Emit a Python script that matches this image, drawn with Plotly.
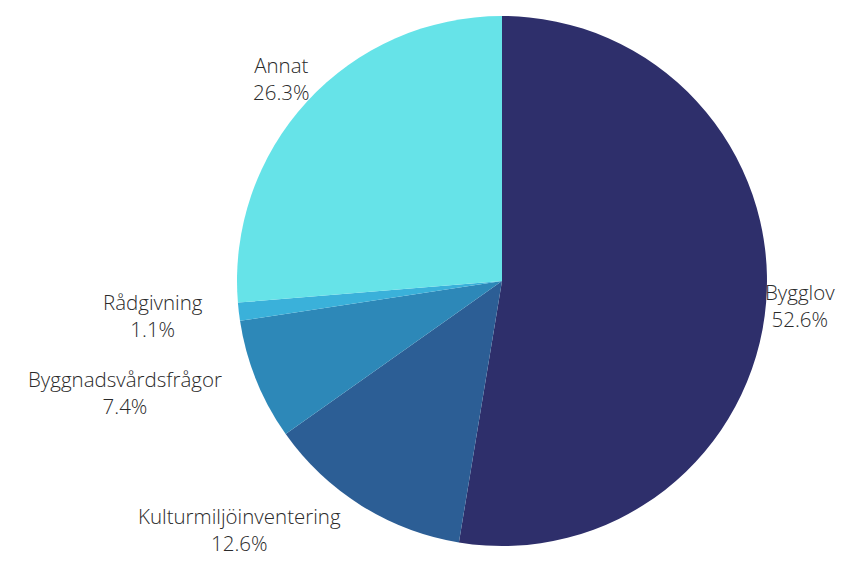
import math
import plotly.graph_objects as go

labels = ["Bygglov", "Kulturmiljöinventering", "Byggnadsvårdsfrågor", "Rådgivning", "Annat"]
values = [52.6, 12.6, 7.4, 1.1, 26.3]
colors = ["#2E2F6B", "#2C5E95", "#2D88B8", "#3AB1DA", "#66E3E8"]

W, H = 828, 549
ML, MR, MT, MB = 192, 32, 8, 11
pw, ph = W - ML - MR, H - MT - MB
R = min(pw, ph) / 2  # pie radius in px
LABEL_R = 1.13 * R
HALF_BOX = 28  # approx. half height of a two-line label, px

fig = go.Figure(go.Pie(
    labels=labels,
    values=values,
    sort=False,
    direction="clockwise",
    rotation=0,
    marker=dict(colors=colors, line=dict(width=0)),
    textinfo="none",
    showlegend=False,
))

total = sum(values)
cum = 0.0
annotations = []
y_min = (HALF_BOX - MB) / ph
y_max = 1 + (MT - HALF_BOX) / ph
for lab, v in zip(labels, values):
    mid = (cum + v / 2) / total
    cum += v
    ang = 2 * math.pi * mid  # clockwise from top
    dx, dy = math.sin(ang), -math.cos(ang)  # screen direction (y down)
    xp = 0.5 + dx * LABEL_R / pw
    yp = min(max(0.5 - dy * LABEL_R / ph, y_min), y_max)
    xanchor = "right" if (dx < 0 and dy > 0) else "center"
    annotations.append(dict(
        x=xp, y=yp, xref="paper", yref="paper",
        text=f"{lab}<br>{v / total * 100:.1f}%",
        showarrow=False, align="center",
        xanchor=xanchor, yanchor="middle",
        font=dict(family="Open Sans", size=20.5, color="#2a2a2a", weight=300),
    ))

fig.update_layout(
    width=W, height=H,
    margin=dict(l=ML, r=MR, t=MT, b=MB),
    paper_bgcolor="white",
    plot_bgcolor="white",
    annotations=annotations,
)
fig.write_html("out.html")
